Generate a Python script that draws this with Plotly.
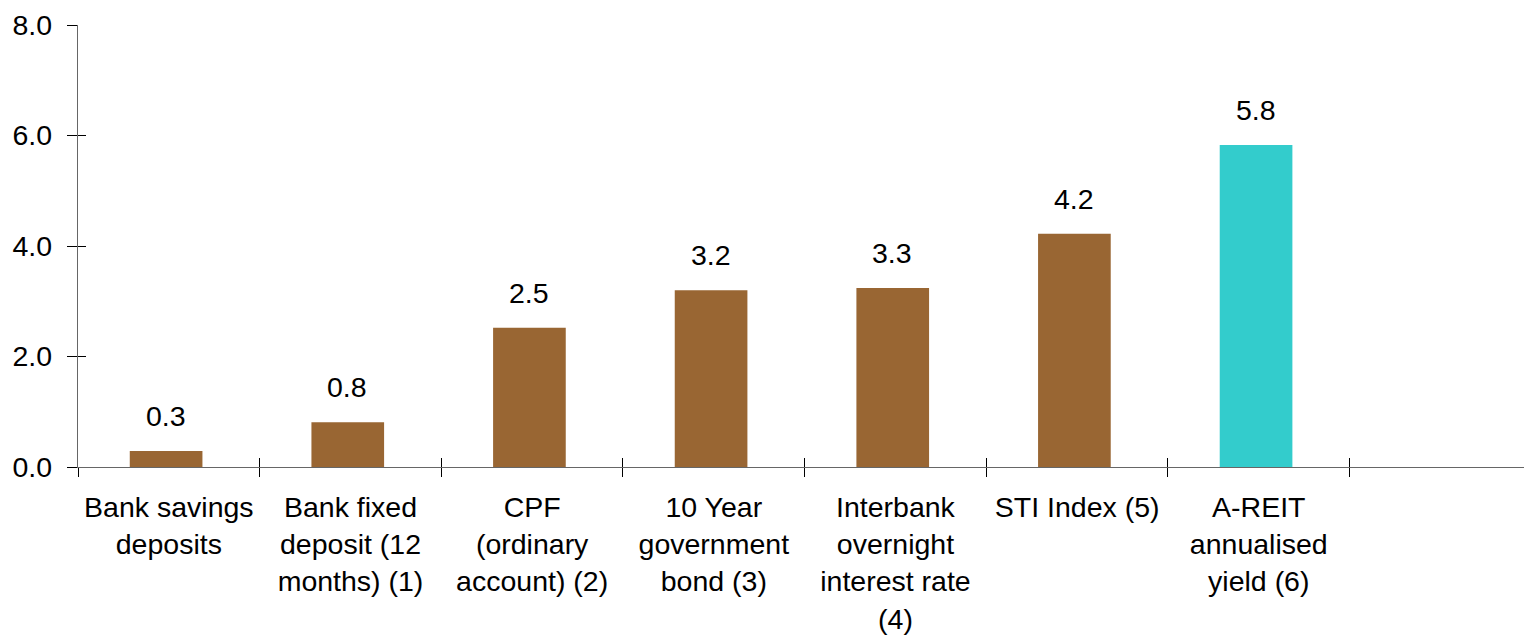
import plotly.graph_objects as go

categories = [
    "Bank savings<br>deposits",
    "Bank fixed<br>deposit (12<br>months) (1)",
    "CPF<br>(ordinary<br>account) (2)",
    "10 Year<br>government<br>bond (3)",
    "Interbank<br>overnight<br>interest rate<br>(4)",
    "STI Index (5)",
    "A-REIT<br>annualised<br>yield (6)",
]
values = [0.29, 0.81, 2.52, 3.20, 3.24, 4.22, 5.83]
value_labels = ["0.3", "0.8", "2.5", "3.2", "3.3", "4.2", "5.8"]
bar_colors = ["#996633"] * 6 + ["#33CCCC"]
y_ticks = [0, 2, 4, 6, 8]

FONT = "Liberation Sans, Arial, sans-serif"
FS = 28.5
X_RANGE = [-0.5, 7.46]
boundaries = [i - 0.5 for i in range(len(categories) + 1)]

fig = go.Figure()
fig.add_trace(go.Bar(
    x=categories, y=values, marker=dict(color=bar_colors, line=dict(width=0)),
    width=0.4, offset=-0.215, hoverinfo="skip", showlegend=False,
))
# invisible helper trace for the overlay (inner half of the crossing ticks)
fig.add_trace(go.Scatter(x=[0], y=[0], xaxis="x2", yaxis="y2", mode="markers",
                         marker=dict(opacity=0), hoverinfo="skip", showlegend=False))

for c, v, t in zip(categories, values, value_labels):
    fig.add_annotation(x=c, y=v, text=t, showarrow=False, yanchor="bottom",
                       xshift=-3, yshift=17, font=dict(family=FONT, size=FS, color="black"))

fig.update_layout(
    width=1524, height=636,
    margin=dict(l=78, r=0, t=25, b=169),
    plot_bgcolor="white", paper_bgcolor="white",
    font=dict(family=FONT, size=FS, color="black"),
    bargap=0.6,
    xaxis=dict(
        type="category", categoryorder="array", categoryarray=categories,
        range=X_RANGE, tickson="boundaries", ticks="outside", ticklen=9,
        tickcolor="black", tickwidth=1, showline=True, linecolor="#666666",
        linewidth=1.3, showgrid=False, zeroline=False,
        tickfont=dict(family=FONT, size=FS, color="black"),
        ticklabelstandoff=15,
    ),
    yaxis=dict(
        range=[0, 8], tickvals=y_ticks, tickformat=".1f", ticks="outside",
        ticklen=10, tickcolor="black", tickwidth=1, showline=True,
        linecolor="#666666", linewidth=1.3, showgrid=False, zeroline=False,
        tickfont=dict(family=FONT, size=FS, color="black"),
        ticklabelstandoff=9,
    ),
    xaxis2=dict(
        overlaying="x", anchor="y", side="bottom", range=X_RANGE,
        tickvals=boundaries, ticks="inside", ticklen=9, tickcolor="black",
        tickwidth=1, showticklabels=False, showline=False, showgrid=False,
        zeroline=False,
    ),
    yaxis2=dict(
        overlaying="y", anchor="x", side="left", range=[0, 8],
        tickvals=y_ticks, ticks="inside", ticklen=8, tickcolor="black",
        tickwidth=1, showticklabels=False, showline=False, showgrid=False,
        zeroline=False,
    ),
)

fig.write_html("out.html")
